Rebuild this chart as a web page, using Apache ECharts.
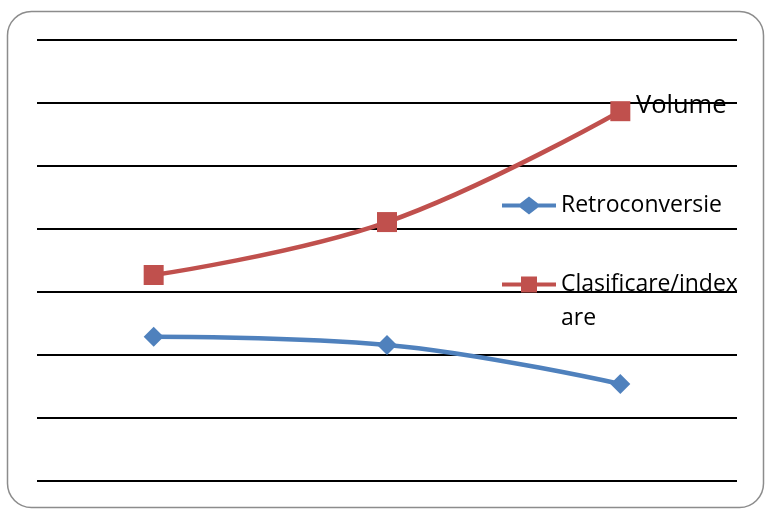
<!DOCTYPE html>
<html>
<head>
<meta charset="utf-8">
<script src="https://cdn.jsdelivr.net/npm/echarts@6/dist/echarts.min.js"></script>
<style>
  html, body { margin: 0; padding: 0; background: #fff; }
  #chart { width: 766px; height: 510px; }
</style>
</head>
<body>
<div id="chart"></div>
<script>
// Three stages along the category axis (no labels shown)
const categories = ['1', '2', '3'];
const retroconversie = [2.29, 2.16, 1.54];
const clasificare = [3.27, 4.11, 5.87];
const yMin = 0, yMax = 7, yStep = 1;

const FONT = '"Open Sans", "Liberation Sans", sans-serif';
const BLUE = '#4F81BD';
const RED = '#C0504D';
const LEGEND_TEXT = { fontFamily: FONT, fontSize: 23, color: '#000' };

// Legend keys: a thick line segment with the series marker in its middle
const ICON_DIAMOND = 'path://M0,7L18,7L27,0L36,7L54,7L54,11L36,11L27,18L18,11L0,11Z';
const ICON_SQUARE = 'path://M0,7L19,7L19,1L35,1L35,7L54,7L54,11L35,11L35,17L19,17L19,11L0,11Z';

const chart = echarts.init(document.getElementById('chart'));
chart.setOption({
  animation: false,
  backgroundColor: '#fff',
  title: {
    text: 'Volume',
    left: 631, top: 88,
    textStyle: { fontFamily: FONT, fontSize: 25.5, fontWeight: 'normal', color: '#000' }
  },
  graphic: [{
    type: 'rect',
    shape: { x: 7.5, y: 11.5, width: 756, height: 496, r: 24 },
    style: { fill: 'none', stroke: '#8c8c8c', lineWidth: 1.5 },
    z: -1
  }, {
    // wrapped tail of the long legend label
    type: 'text',
    left: 561, top: 307,
    style: { text: 'are', font: '23px ' + FONT, fill: '#000' }
  }],
  legend: [{
    data: [{ name: 'Retroconversie', icon: ICON_DIAMOND }],
    left: 497, top: 189,
    itemWidth: 54, itemHeight: 18,
    textStyle: LEGEND_TEXT
  }, {
    data: [{ name: 'Clasificare/indexare', icon: ICON_SQUARE }],
    left: 497, top: 268,
    itemWidth: 54, itemHeight: 18,
    formatter: () => 'Clasificare/index',
    textStyle: LEGEND_TEXT
  }],
  grid: { left: 37, right: 29, top: 40, bottom: 29 },
  xAxis: {
    type: 'category', data: categories, boundaryGap: true,
    axisLine: { show: false }, axisTick: { show: false }, axisLabel: { show: false }
  },
  yAxis: {
    type: 'value', min: yMin, max: yMax, interval: yStep,
    axisLine: { show: false }, axisTick: { show: false }, axisLabel: { show: false },
    splitLine: { lineStyle: { color: '#000', width: 2 } }
  },
  series: [{
    name: 'Retroconversie', type: 'line', data: retroconversie, smooth: 0.4,
    symbol: 'diamond', symbolSize: 20,
    lineStyle: { color: BLUE, width: 4.5 }, itemStyle: { color: BLUE }
  }, {
    name: 'Clasificare/indexare', type: 'line', data: clasificare, smooth: 0.4,
    symbol: 'rect', symbolSize: 20,
    lineStyle: { color: RED, width: 4.5 }, itemStyle: { color: RED }
  }]
});
</script>
</body>
</html>
